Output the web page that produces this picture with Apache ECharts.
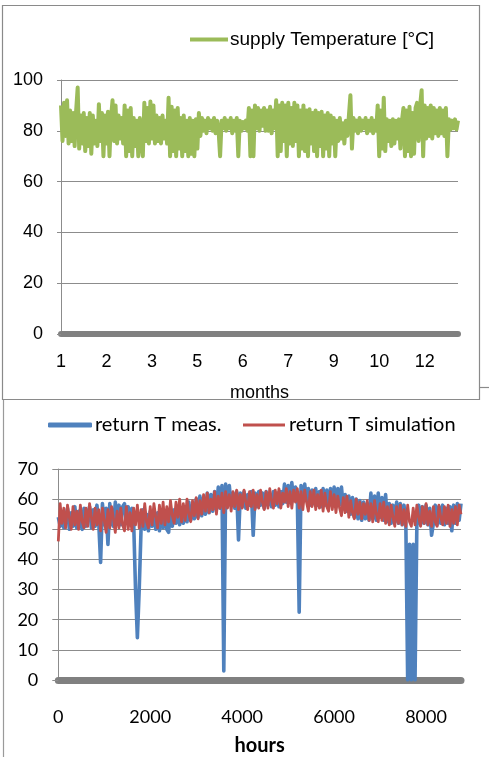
<!DOCTYPE html>
<html>
<head>
<meta charset="utf-8">
<script src="https://cdn.jsdelivr.net/npm/echarts@6/dist/echarts.min.js"></script>
<style>
  html, body { margin: 0; padding: 0; background: #fff; }
  #chart { width: 489px; height: 757px; }
</style>
</head>
<body>
<div id="chart"></div>
<script>
// Supply temperature over the year, one value per sample step [°C]
const supplyTemp = [
  90, 76, 91, 78, 92, 75, 88, 76, 87, 74,
  88, 97, 73, 86, 75, 87, 72, 85, 74, 87,
  71, 86, 75, 84, 74, 90.5, 76, 87, 70, 86,
  75, 87.5, 70, 85, 92, 76, 90, 75, 86, 77,
  85, 75, 90, 70, 88, 72, 89, 70, 85, 74,
  84, 70, 85, 76, 70, 91, 76, 89, 75, 91.5,
  77, 90, 75, 86, 76, 85, 75, 86, 77, 84,
  75, 93, 70, 89.5, 72, 88, 70, 89, 73, 85,
  70, 86, 72, 84, 70, 85, 71, 84, 70, 84.5,
  73, 87, 78, 85, 80, 84, 79, 85, 81, 84,
  80, 85, 79, 84, 80, 70, 84, 81, 85, 80,
  84, 81, 85, 79, 84, 80, 85, 70, 84, 80,
  83.5, 81, 84, 80, 89, 70, 88, 70, 90, 81,
  89, 80, 88, 82, 89, 80, 88, 80, 89.5, 79,
  88, 81, 92, 70, 90, 72, 91, 76, 90, 70,
  91, 75, 89, 74, 91, 76, 90, 70, 88, 73,
  90, 72, 88, 70, 88.5, 75, 87, 72, 88, 70,
  87, 74, 87.5, 70, 86, 73, 87, 70, 86, 75,
  85, 70, 84, 76, 85, 77, 83, 75, 84, 78,
  86, 94, 73, 85, 80, 84, 79, 85, 80, 84,
  81, 85, 79, 84, 80, 85, 79, 84, 80, 90,
  70, 88, 73, 93, 72, 84.5, 76, 84, 74, 84.5,
  75, 84, 77, 84.5, 73, 84, 89, 70, 88, 72,
  89.5, 70, 87, 71, 89, 91, 76, 90, 96, 70,
  90, 77, 89, 78, 90, 77, 89, 79, 88, 78,
  89, 79, 88, 78, 89, 70, 84.5, 80.5, 84, 81,
  84.5, 80.5, 84
];
// Month tick labels, one every 30 samples
const monthLabels = ['1', '2', '3', '5', '6', '7', '9', '10', '12'];
const samplesPerLabel = 30;

// Return temperature, sampled every 40 hours [°C]
const hourStep = 40;
const returnMeas = [
  54, 51, 53, 50.5, 53.5, 57, 50, 55.5, 51, 57.5,
  50.5, 56, 52, 50, 57, 51, 55, 57.5, 50.5, 56.5,
  51, 58, 52, 39, 58.5, 51.5, 57, 45, 58.5, 52,
  51, 59, 52.5, 58, 51.5, 57.5, 58.5, 52, 57.5, 51.5,
  57, 52, 30, 14, 30, 50, 56.5, 50, 55, 49.5,
  56, 51, 56.5, 50, 55.5, 49.5, 56.5, 50.5, 55, 50,
  49, 57, 51, 56.5, 52, 57, 51.5, 56, 52, 57.5,
  52.5, 59, 53, 58, 53.5, 60, 54, 61, 54.5, 60.5,
  55, 62, 55.5, 61.5, 56, 62.5, 56.5, 64, 57, 64.5,
  3, 65, 57.5, 64.5, 58, 62, 57, 62.5, 46.5, 62,
  57.5, 62.5, 57, 61.5, 58, 62.5, 48, 62, 57.5, 62.5,
  58, 62, 57, 62.5, 58, 61.5, 57.5, 62.5, 58, 62,
  57.5, 62.5, 58.5, 65, 59, 64.5, 60, 65.5, 59.5, 64,
  60, 22.5, 64.5, 59, 65, 59.5, 63.5, 58, 63, 58.5,
  63.5, 58, 62.5, 57.5, 63.5, 58, 63, 57.5, 63.5, 58,
  64, 57.5, 63.5, 58, 64, 57, 61.5, 56, 61, 55,
  60.5, 54, 60, 53.5, 59.5, 53, 59, 53.5, 58.5, 53,
  62, 53.5, 61, 53, 62, 54, 60.5, 53, 61.5, 52.5,
  58.5, 52, 58, 52.5, 59, 52, 58.5, 51.5, 58, 52,
  0, 45, 0, 45, 0, 52, 58, 51.5, 57.5, 52,
  58, 51.5, 57, 48, 52, 58, 51.5, 57.5, 52, 58,
  51.5, 57, 52, 57.5, 49.5, 58, 52, 58.5, 53, 58.5
];
const returnSim = [
  46, 58.5, 52, 57, 50.5, 58, 54, 50, 57.5, 51.5,
  56, 50, 58, 52.5, 50.5, 57, 51, 58.5, 54, 50,
  57, 51.5, 56.5, 49.5, 57, 53, 49, 56.5, 50.5, 57.5,
  53.5, 49, 56, 50.5, 57, 51.5, 49.5, 57.5, 50, 55.5,
  49.5, 57, 51.5, 58, 50.5, 56.5, 51, 58.5, 52.5, 50.5,
  57.5, 51.5, 58.5, 54, 50.5, 58, 52, 59, 51.5, 57.5,
  52.5, 59.5, 54.5, 52, 59, 54, 60, 52.5, 58.5, 53,
  60, 55, 52.5, 59.5, 54.5, 60.5, 53.5, 59.5, 55, 61.5,
  56, 62, 55.5, 60, 56.5, 62.5, 55, 61, 57, 62,
  55.5, 62.5, 57, 61.5, 56, 62.5, 57.5, 63, 56.5, 61.5,
  57, 63, 59, 56.5, 62.5, 57.5, 63, 56.5, 61.5, 57,
  63, 59, 56.5, 62.5, 57, 63.5, 59.5, 57, 63, 58.5,
  63.5, 57, 62, 59, 63.5, 57.5, 62.5, 57, 63, 59,
  63.5, 57, 62.5, 56.5, 63, 59, 56, 62.5, 57.5, 63,
  56.5, 61.5, 57, 63, 56, 62, 57.5, 56, 62.5, 56.5,
  61.5, 55.5, 61, 57, 54.5, 60.5, 55.5, 61, 54, 59.5,
  55.5, 53.5, 60, 55, 59, 53.5, 58.5, 55, 59.5, 53,
  58.5, 52.5, 59.5, 55, 52.5, 58.5, 53, 59, 52, 57.5,
  51.5, 58, 54, 51, 57.5, 52, 58, 51.5, 56.5, 51,
  58, 52.5, 51, 57, 51.5, 58, 54, 51, 57.5, 52,
  58.5, 51.5, 56, 51, 57.5, 52.5, 51, 58, 54, 51.5,
  57.5, 52, 58, 51, 56.5, 52, 57.5, 51.5, 58, 55
];

// Category names for the month axis: a label on every 30th sample
const monthCategories = supplyTemp.map((_, i) =>
  i % samplesPerLabel === 0 ? (monthLabels[i / samplesPerLabel] || '') : '');
const measPairs = returnMeas.map((v, i) => [i * hourStep, v]);
const simPairs = returnSim.map((v, i) => [i * hourStep, v]);

const GRID = '#8c8c8c';
const AXIS = '#808080';
const GREEN = '#9BBB59', BLUE = '#4F81BD', RED = '#C0504D';
const ARIAL = 'Liberation Sans, Arial, sans-serif';
const CALIBRI = 'Lato, Open Sans, sans-serif';

const chart = echarts.init(document.getElementById('chart'), null, { renderer: 'canvas' });
chart.setOption({
  animation: false,
  backgroundColor: '#fff',
  graphic: [
    { type: 'rect', shape: { x: 2.5, y: 5.5, width: 477, height: 394 },
      style: { fill: 'none', stroke: '#8a8a8a', lineWidth: 1.2 }, silent: true },
    { type: 'line', shape: { x1: 3.5, y1: 400, x2: 3.5, y2: 757 },
      style: { stroke: '#9a9a9a', lineWidth: 1.2 }, silent: true },
    { type: 'line', shape: { x1: 480, y1: 387.5, x2: 489, y2: 387.5 },
      style: { stroke: '#8a8a8a', lineWidth: 1.2 }, silent: true }
  ],
  legend: [
    {
      left: 190, top: 30, padding: 0,
      icon: 'rect', itemWidth: 38, itemHeight: 4,
      data: ['supply Temperature [°C]'],
      textStyle: { fontFamily: ARIAL, fontSize: 19, color: '#000', padding: [0, 0, 0, -3] }
    },
    {
      left: 48, top: 415, padding: 0,
      icon: 'roundRect', itemWidth: 44, itemHeight: 5,
      data: ['return T meas.'],
      textStyle: { fontFamily: CALIBRI, fontSize: 20, color: '#000', padding: [0, 0, 0, -2] }
    },
    {
      left: 243, top: 415, padding: 0,
      icon: 'rect', itemWidth: 42, itemHeight: 3,
      data: ['return T simulation'],
      textStyle: { fontFamily: CALIBRI, fontSize: 20, color: '#000', padding: [0, 0, 0, -1] }
    }
  ],
  grid: [
    { left: 61, right: 31, top: 80, height: 254, containLabel: false },
    { left: 58.3, right: 28, top: 469, height: 213.7, containLabel: false }
  ],
  xAxis: [
    {
      gridIndex: 0, type: 'category', boundaryGap: false, data: monthCategories,
      offset: 2,
      axisLine: { lineStyle: { color: AXIS, width: 6 } },
      axisTick: { show: false },
      axisLabel: { interval: 0, margin: 17, fontFamily: ARIAL, fontSize: 18, color: '#000' },
      splitLine: { show: false },
      name: 'months', nameLocation: 'middle', nameGap: 48,
      nameTextStyle: { fontFamily: ARIAL, fontSize: 18, color: '#000' }
    },
    {
      gridIndex: 1, type: 'value', min: 0, max: 8760, interval: 2000,
      offset: 3,
      axisLine: { lineStyle: { color: AXIS, width: 7 } },
      axisTick: { show: false },
      axisLabel: { margin: 25, fontFamily: CALIBRI, fontSize: 18, color: '#000',
        showMaxLabel: false, formatter: v => String(v) },
      splitLine: { show: false },
      name: 'hours', nameLocation: 'middle', nameGap: 53,
      nameTextStyle: { fontFamily: CALIBRI, fontSize: 20, fontWeight: 'bold', color: '#000' }
    }
  ],
  yAxis: [
    {
      gridIndex: 0, type: 'value', min: 0, max: 100, interval: 20,
      axisLine: { show: true, lineStyle: { color: GRID, width: 1 } },
      axisTick: { show: true, length: 4, lineStyle: { color: GRID, width: 1 } },
      axisLabel: { margin: 18, fontFamily: ARIAL, fontSize: 18, color: '#000' },
      splitLine: { show: true, lineStyle: { color: GRID, width: 1 } }
    },
    {
      gridIndex: 1, type: 'value', min: 0, max: 70, interval: 10,
      axisLine: { show: true, lineStyle: { color: GRID, width: 1 } },
      axisTick: { show: true, length: 6, lineStyle: { color: GRID, width: 1 } },
      axisLabel: { margin: 20, fontFamily: CALIBRI, fontSize: 18, color: '#000' },
      splitLine: { show: true, lineStyle: { color: GRID, width: 1 } }
    }
  ],
  series: [
    {
      name: 'supply Temperature [°C]', type: 'line', xAxisIndex: 0, yAxisIndex: 0,
      data: supplyTemp, symbol: 'none', color: GREEN,
      lineStyle: { color: GREEN, width: 4, join: 'round' }
    },
    {
      name: 'return T meas.', type: 'line', xAxisIndex: 1, yAxisIndex: 1,
      data: measPairs, symbol: 'none', color: BLUE,
      lineStyle: { color: BLUE, width: 3.6, join: 'round' }
    },
    {
      name: 'return T simulation', type: 'line', xAxisIndex: 1, yAxisIndex: 1,
      data: simPairs, symbol: 'none', color: RED,
      lineStyle: { color: RED, width: 2.8, join: 'round' }
    }
  ]
});
</script>
</body>
</html>
